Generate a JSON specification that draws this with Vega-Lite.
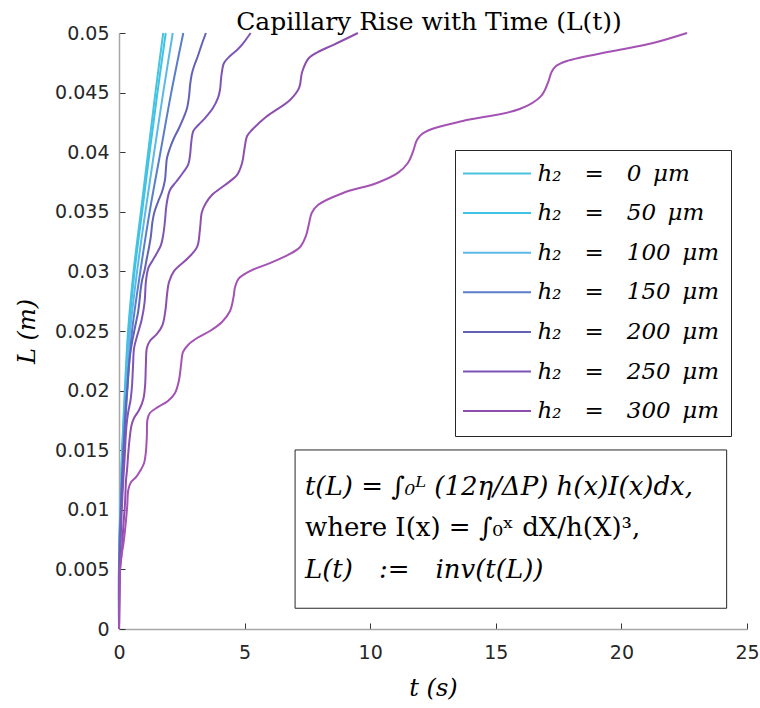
{
  "$schema": "https://vega.github.io/schema/vega-lite/v6.json",
  "width": 628,
  "height": 596,
  "autosize": {"type": "none"},
  "padding": {"left": 119, "top": 33, "right": 13, "bottom": 79},
  "background": "white",
  "title": {"text": "Capillary Rise with Time (L(t))", "font": "DejaVu Serif", "fontSize": 25, "fontWeight": "normal", "color": "#000000", "anchor": "middle", "offset": -11, "dx": -4},
  "config": {"view": {"stroke": null}},
  "datasets": {
    "curves": [
      {"label": "h₂ = 0 μm", "t": 0, "L": 0},
      {"label": "h₂ = 0 μm", "t": 0, "L": 0.0055},
      {"label": "h₂ = 0 μm", "t": 0.02, "L": 0.0075},
      {"label": "h₂ = 0 μm", "t": 0.05, "L": 0.01},
      {"label": "h₂ = 0 μm", "t": 0.12, "L": 0.015},
      {"label": "h₂ = 0 μm", "t": 0.23, "L": 0.02},
      {"label": "h₂ = 0 μm", "t": 0.36, "L": 0.025},
      {"label": "h₂ = 0 μm", "t": 0.58, "L": 0.03},
      {"label": "h₂ = 0 μm", "t": 0.87, "L": 0.035},
      {"label": "h₂ = 0 μm", "t": 1.16, "L": 0.04},
      {"label": "h₂ = 0 μm", "t": 1.45, "L": 0.045},
      {"label": "h₂ = 0 μm", "t": 1.76, "L": 0.05},
      {"label": "h₂ = 50 μm", "t": 0, "L": 0},
      {"label": "h₂ = 50 μm", "t": 0, "L": 0.0055},
      {"label": "h₂ = 50 μm", "t": 0.02, "L": 0.0075},
      {"label": "h₂ = 50 μm", "t": 0.05, "L": 0.01},
      {"label": "h₂ = 50 μm", "t": 0.13, "L": 0.015},
      {"label": "h₂ = 50 μm", "t": 0.25, "L": 0.02},
      {"label": "h₂ = 50 μm", "t": 0.39, "L": 0.025},
      {"label": "h₂ = 50 μm", "t": 0.62, "L": 0.03},
      {"label": "h₂ = 50 μm", "t": 0.92, "L": 0.035},
      {"label": "h₂ = 50 μm", "t": 1.22, "L": 0.04},
      {"label": "h₂ = 50 μm", "t": 1.53, "L": 0.045},
      {"label": "h₂ = 50 μm", "t": 1.86, "L": 0.05},
      {"label": "h₂ = 100 μm", "t": 0, "L": 0},
      {"label": "h₂ = 100 μm", "t": 0, "L": 0.0055},
      {"label": "h₂ = 100 μm", "t": 0.02, "L": 0.0075},
      {"label": "h₂ = 100 μm", "t": 0.06, "L": 0.01},
      {"label": "h₂ = 100 μm", "t": 0.15, "L": 0.015},
      {"label": "h₂ = 100 μm", "t": 0.28, "L": 0.02},
      {"label": "h₂ = 100 μm", "t": 0.44, "L": 0.025},
      {"label": "h₂ = 100 μm", "t": 0.72, "L": 0.03},
      {"label": "h₂ = 100 μm", "t": 1.05, "L": 0.035},
      {"label": "h₂ = 100 μm", "t": 1.4, "L": 0.04},
      {"label": "h₂ = 100 μm", "t": 1.76, "L": 0.045},
      {"label": "h₂ = 100 μm", "t": 2.14, "L": 0.05},
      {"label": "h₂ = 150 μm", "t": 0, "L": 0},
      {"label": "h₂ = 150 μm", "t": 0, "L": 0.0055},
      {"label": "h₂ = 150 μm", "t": 0.03, "L": 0.0075},
      {"label": "h₂ = 150 μm", "t": 0.07, "L": 0.01},
      {"label": "h₂ = 150 μm", "t": 0.18, "L": 0.015},
      {"label": "h₂ = 150 μm", "t": 0.33, "L": 0.02},
      {"label": "h₂ = 150 μm", "t": 0.52, "L": 0.025},
      {"label": "h₂ = 150 μm", "t": 0.85, "L": 0.03},
      {"label": "h₂ = 150 μm", "t": 1.22, "L": 0.035},
      {"label": "h₂ = 150 μm", "t": 1.65, "L": 0.04},
      {"label": "h₂ = 150 μm", "t": 2.08, "L": 0.045},
      {"label": "h₂ = 150 μm", "t": 2.56, "L": 0.05},
      {"label": "h₂ = 200 μm", "t": 0, "L": 0},
      {"label": "h₂ = 200 μm", "t": 0.01, "L": 0.00327},
      {"label": "h₂ = 200 μm", "t": 0.03, "L": 0.00579},
      {"label": "h₂ = 200 μm", "t": 0.06, "L": 0.00831},
      {"label": "h₂ = 200 μm", "t": 0.09, "L": 0.01082},
      {"label": "h₂ = 200 μm", "t": 0.12, "L": 0.0125},
      {"label": "h₂ = 200 μm", "t": 0.16, "L": 0.01418},
      {"label": "h₂ = 200 μm", "t": 0.2, "L": 0.01586},
      {"label": "h₂ = 200 μm", "t": 0.24, "L": 0.01753},
      {"label": "h₂ = 200 μm", "t": 0.29, "L": 0.01921},
      {"label": "h₂ = 200 μm", "t": 0.34, "L": 0.02047},
      {"label": "h₂ = 200 μm", "t": 0.38, "L": 0.02173},
      {"label": "h₂ = 200 μm", "t": 0.44, "L": 0.02299},
      {"label": "h₂ = 200 μm", "t": 0.52, "L": 0.02408},
      {"label": "h₂ = 200 μm", "t": 0.6, "L": 0.02492},
      {"label": "h₂ = 200 μm", "t": 0.68, "L": 0.02576},
      {"label": "h₂ = 200 μm", "t": 0.76, "L": 0.02659},
      {"label": "h₂ = 200 μm", "t": 0.82, "L": 0.0276},
      {"label": "h₂ = 200 μm", "t": 0.86, "L": 0.02844},
      {"label": "h₂ = 200 μm", "t": 0.92, "L": 0.02928},
      {"label": "h₂ = 200 μm", "t": 1.02, "L": 0.03012},
      {"label": "h₂ = 200 μm", "t": 1.11, "L": 0.03112},
      {"label": "h₂ = 200 μm", "t": 1.19, "L": 0.03196},
      {"label": "h₂ = 200 μm", "t": 1.27, "L": 0.03297},
      {"label": "h₂ = 200 μm", "t": 1.33, "L": 0.03414},
      {"label": "h₂ = 200 μm", "t": 1.41, "L": 0.03498},
      {"label": "h₂ = 200 μm", "t": 1.55, "L": 0.03582},
      {"label": "h₂ = 200 μm", "t": 1.71, "L": 0.03666},
      {"label": "h₂ = 200 μm", "t": 1.83, "L": 0.03767},
      {"label": "h₂ = 200 μm", "t": 1.87, "L": 0.03867},
      {"label": "h₂ = 200 μm", "t": 1.91, "L": 0.03951},
      {"label": "h₂ = 200 μm", "t": 2.03, "L": 0.04035},
      {"label": "h₂ = 200 μm", "t": 2.19, "L": 0.04119},
      {"label": "h₂ = 200 μm", "t": 2.39, "L": 0.04203},
      {"label": "h₂ = 200 μm", "t": 2.55, "L": 0.04279},
      {"label": "h₂ = 200 μm", "t": 2.71, "L": 0.04371},
      {"label": "h₂ = 200 μm", "t": 2.79, "L": 0.04472},
      {"label": "h₂ = 200 μm", "t": 2.83, "L": 0.04564},
      {"label": "h₂ = 200 μm", "t": 2.89, "L": 0.04648},
      {"label": "h₂ = 200 μm", "t": 2.99, "L": 0.04723},
      {"label": "h₂ = 200 μm", "t": 3.14, "L": 0.04807},
      {"label": "h₂ = 200 μm", "t": 3.3, "L": 0.04908},
      {"label": "h₂ = 200 μm", "t": 3.46, "L": 0.05},
      {"label": "h₂ = 250 μm", "t": 0, "L": 0},
      {"label": "h₂ = 250 μm", "t": 0.01, "L": 0.00327},
      {"label": "h₂ = 250 μm", "t": 0.04, "L": 0.00579},
      {"label": "h₂ = 250 μm", "t": 0.08, "L": 0.00831},
      {"label": "h₂ = 250 μm", "t": 0.12, "L": 0.0104},
      {"label": "h₂ = 250 μm", "t": 0.17, "L": 0.0125},
      {"label": "h₂ = 250 μm", "t": 0.22, "L": 0.01418},
      {"label": "h₂ = 250 μm", "t": 0.26, "L": 0.01586},
      {"label": "h₂ = 250 μm", "t": 0.3, "L": 0.01711},
      {"label": "h₂ = 250 μm", "t": 0.36, "L": 0.01812},
      {"label": "h₂ = 250 μm", "t": 0.46, "L": 0.01921},
      {"label": "h₂ = 250 μm", "t": 0.52, "L": 0.02047},
      {"label": "h₂ = 250 μm", "t": 0.56, "L": 0.02215},
      {"label": "h₂ = 250 μm", "t": 0.6, "L": 0.02357},
      {"label": "h₂ = 250 μm", "t": 0.72, "L": 0.02458},
      {"label": "h₂ = 250 μm", "t": 0.9, "L": 0.02592},
      {"label": "h₂ = 250 μm", "t": 1.02, "L": 0.02743},
      {"label": "h₂ = 250 μm", "t": 1.07, "L": 0.02911},
      {"label": "h₂ = 250 μm", "t": 1.17, "L": 0.03029},
      {"label": "h₂ = 250 μm", "t": 1.35, "L": 0.03096},
      {"label": "h₂ = 250 μm", "t": 1.51, "L": 0.03154},
      {"label": "h₂ = 250 μm", "t": 1.67, "L": 0.03221},
      {"label": "h₂ = 250 μm", "t": 1.76, "L": 0.03305},
      {"label": "h₂ = 250 μm", "t": 1.83, "L": 0.03423},
      {"label": "h₂ = 250 μm", "t": 1.89, "L": 0.03557},
      {"label": "h₂ = 250 μm", "t": 2.03, "L": 0.03683},
      {"label": "h₂ = 250 μm", "t": 2.27, "L": 0.0375},
      {"label": "h₂ = 250 μm", "t": 2.51, "L": 0.03817},
      {"label": "h₂ = 250 μm", "t": 2.75, "L": 0.03893},
      {"label": "h₂ = 250 μm", "t": 2.83, "L": 0.03977},
      {"label": "h₂ = 250 μm", "t": 2.87, "L": 0.04069},
      {"label": "h₂ = 250 μm", "t": 2.96, "L": 0.04178},
      {"label": "h₂ = 250 μm", "t": 3.16, "L": 0.04228},
      {"label": "h₂ = 250 μm", "t": 3.46, "L": 0.04295},
      {"label": "h₂ = 250 μm", "t": 3.74, "L": 0.04371},
      {"label": "h₂ = 250 μm", "t": 3.94, "L": 0.04456},
      {"label": "h₂ = 250 μm", "t": 4.02, "L": 0.04522},
      {"label": "h₂ = 250 μm", "t": 4.08, "L": 0.04648},
      {"label": "h₂ = 250 μm", "t": 4.18, "L": 0.04748},
      {"label": "h₂ = 250 μm", "t": 4.42, "L": 0.04807},
      {"label": "h₂ = 250 μm", "t": 4.74, "L": 0.04866},
      {"label": "h₂ = 250 μm", "t": 4.98, "L": 0.04924},
      {"label": "h₂ = 250 μm", "t": 5.24, "L": 0.05},
      {"label": "h₂ = 300 μm", "t": 0, "L": 0},
      {"label": "h₂ = 300 μm", "t": 0.02, "L": 0.00285},
      {"label": "h₂ = 300 μm", "t": 0.04, "L": 0.00495},
      {"label": "h₂ = 300 μm", "t": 0.11, "L": 0.00638},
      {"label": "h₂ = 300 μm", "t": 0.17, "L": 0.00856},
      {"label": "h₂ = 300 μm", "t": 0.24, "L": 0.01057},
      {"label": "h₂ = 300 μm", "t": 0.28, "L": 0.0125},
      {"label": "h₂ = 300 μm", "t": 0.32, "L": 0.01334},
      {"label": "h₂ = 300 μm", "t": 0.38, "L": 0.01502},
      {"label": "h₂ = 300 μm", "t": 0.44, "L": 0.01628},
      {"label": "h₂ = 300 μm", "t": 0.5, "L": 0.01711},
      {"label": "h₂ = 300 μm", "t": 0.6, "L": 0.0177},
      {"label": "h₂ = 300 μm", "t": 0.8, "L": 0.01837},
      {"label": "h₂ = 300 μm", "t": 0.97, "L": 0.0193},
      {"label": "h₂ = 300 μm", "t": 1.04, "L": 0.02047},
      {"label": "h₂ = 300 μm", "t": 1.07, "L": 0.02215},
      {"label": "h₂ = 300 μm", "t": 1.11, "L": 0.02357},
      {"label": "h₂ = 300 μm", "t": 1.23, "L": 0.02416},
      {"label": "h₂ = 300 μm", "t": 1.51, "L": 0.02475},
      {"label": "h₂ = 300 μm", "t": 1.73, "L": 0.0255},
      {"label": "h₂ = 300 μm", "t": 1.85, "L": 0.02676},
      {"label": "h₂ = 300 μm", "t": 1.91, "L": 0.02802},
      {"label": "h₂ = 300 μm", "t": 1.99, "L": 0.02911},
      {"label": "h₂ = 300 μm", "t": 2.19, "L": 0.03003},
      {"label": "h₂ = 300 μm", "t": 2.75, "L": 0.03112},
      {"label": "h₂ = 300 μm", "t": 3.11, "L": 0.03205},
      {"label": "h₂ = 300 μm", "t": 3.22, "L": 0.03347},
      {"label": "h₂ = 300 μm", "t": 3.3, "L": 0.03498},
      {"label": "h₂ = 300 μm", "t": 3.46, "L": 0.03574},
      {"label": "h₂ = 300 μm", "t": 3.7, "L": 0.03641},
      {"label": "h₂ = 300 μm", "t": 4.22, "L": 0.03725},
      {"label": "h₂ = 300 μm", "t": 4.7, "L": 0.03809},
      {"label": "h₂ = 300 μm", "t": 4.9, "L": 0.03909},
      {"label": "h₂ = 300 μm", "t": 5.0, "L": 0.04035},
      {"label": "h₂ = 300 μm", "t": 5.1, "L": 0.04136},
      {"label": "h₂ = 300 μm", "t": 5.29, "L": 0.04186},
      {"label": "h₂ = 300 μm", "t": 5.85, "L": 0.04295},
      {"label": "h₂ = 300 μm", "t": 6.81, "L": 0.04438},
      {"label": "h₂ = 300 μm", "t": 7.17, "L": 0.04539},
      {"label": "h₂ = 300 μm", "t": 7.29, "L": 0.04673},
      {"label": "h₂ = 300 μm", "t": 7.56, "L": 0.0479},
      {"label": "h₂ = 300 μm", "t": 8.0, "L": 0.04849},
      {"label": "h₂ = 300 μm", "t": 8.52, "L": 0.04899},
      {"label": "h₂ = 300 μm", "t": 9.51, "L": 0.05},
      {"label": "h₂ = 350 μm", "t": 0, "L": 0},
      {"label": "h₂ = 350 μm", "t": 0.01, "L": 0.00243},
      {"label": "h₂ = 350 μm", "t": 0.04, "L": 0.00495},
      {"label": "h₂ = 350 μm", "t": 0.1, "L": 0.00621},
      {"label": "h₂ = 350 μm", "t": 0.17, "L": 0.00705},
      {"label": "h₂ = 350 μm", "t": 0.26, "L": 0.00872},
      {"label": "h₂ = 350 μm", "t": 0.33, "L": 0.0104},
      {"label": "h₂ = 350 μm", "t": 0.37, "L": 0.01166},
      {"label": "h₂ = 350 μm", "t": 0.48, "L": 0.01233},
      {"label": "h₂ = 350 μm", "t": 0.68, "L": 0.01275},
      {"label": "h₂ = 350 μm", "t": 0.84, "L": 0.01326},
      {"label": "h₂ = 350 μm", "t": 1.0, "L": 0.01393},
      {"label": "h₂ = 350 μm", "t": 1.07, "L": 0.01485},
      {"label": "h₂ = 350 μm", "t": 1.11, "L": 0.01628},
      {"label": "h₂ = 350 μm", "t": 1.13, "L": 0.01753},
      {"label": "h₂ = 350 μm", "t": 1.23, "L": 0.01812},
      {"label": "h₂ = 350 μm", "t": 1.55, "L": 0.01862},
      {"label": "h₂ = 350 μm", "t": 1.95, "L": 0.01913},
      {"label": "h₂ = 350 μm", "t": 2.23, "L": 0.0198},
      {"label": "h₂ = 350 μm", "t": 2.39, "L": 0.02089},
      {"label": "h₂ = 350 μm", "t": 2.47, "L": 0.02215},
      {"label": "h₂ = 350 μm", "t": 2.55, "L": 0.02324},
      {"label": "h₂ = 350 μm", "t": 2.75, "L": 0.02383},
      {"label": "h₂ = 350 μm", "t": 3.11, "L": 0.02441},
      {"label": "h₂ = 350 μm", "t": 3.62, "L": 0.025},
      {"label": "h₂ = 350 μm", "t": 4.1, "L": 0.02576},
      {"label": "h₂ = 350 μm", "t": 4.42, "L": 0.02668},
      {"label": "h₂ = 350 μm", "t": 4.56, "L": 0.02785},
      {"label": "h₂ = 350 μm", "t": 4.62, "L": 0.02869},
      {"label": "h₂ = 350 μm", "t": 4.75, "L": 0.02936},
      {"label": "h₂ = 350 μm", "t": 5.22, "L": 0.03003},
      {"label": "h₂ = 350 μm", "t": 6.01, "L": 0.0307},
      {"label": "h₂ = 350 μm", "t": 6.73, "L": 0.03138},
      {"label": "h₂ = 350 μm", "t": 7.21, "L": 0.03205},
      {"label": "h₂ = 350 μm", "t": 7.44, "L": 0.03297},
      {"label": "h₂ = 350 μm", "t": 7.56, "L": 0.03398},
      {"label": "h₂ = 350 μm", "t": 7.67, "L": 0.0349},
      {"label": "h₂ = 350 μm", "t": 7.92, "L": 0.03557},
      {"label": "h₂ = 350 μm", "t": 8.92, "L": 0.03658},
      {"label": "h₂ = 350 μm", "t": 10.27, "L": 0.03742},
      {"label": "h₂ = 350 μm", "t": 11.1, "L": 0.03826},
      {"label": "h₂ = 350 μm", "t": 11.5, "L": 0.03909},
      {"label": "h₂ = 350 μm", "t": 11.7, "L": 0.04002},
      {"label": "h₂ = 350 μm", "t": 11.86, "L": 0.04102},
      {"label": "h₂ = 350 μm", "t": 12.06, "L": 0.04153},
      {"label": "h₂ = 350 μm", "t": 12.46, "L": 0.04195},
      {"label": "h₂ = 350 μm", "t": 13.69, "L": 0.04262},
      {"label": "h₂ = 350 μm", "t": 15.95, "L": 0.04362},
      {"label": "h₂ = 350 μm", "t": 16.8, "L": 0.04471},
      {"label": "h₂ = 350 μm", "t": 17.1, "L": 0.04597},
      {"label": "h₂ = 350 μm", "t": 17.22, "L": 0.04673},
      {"label": "h₂ = 350 μm", "t": 17.4, "L": 0.04723},
      {"label": "h₂ = 350 μm", "t": 17.83, "L": 0.04765},
      {"label": "h₂ = 350 μm", "t": 19.67, "L": 0.04849},
      {"label": "h₂ = 350 μm", "t": 21.26, "L": 0.04916},
      {"label": "h₂ = 350 μm", "t": 22.61, "L": 0.05}
    ]
  },
  "layer": [
    {
      "data": {"values": [{"t1": 7.01, "t2": 24.19, "L1": 0.01502, "L2": 0.00174}]},
      "mark": {"type": "rect", "fill": "white", "stroke": "#262626", "strokeWidth": 1},
      "encoding": {
        "x": {"field": "t1", "type": "quantitative"},
        "x2": {"field": "t2"},
        "y": {"field": "L1", "type": "quantitative"},
        "y2": {"field": "L2"}
      }
    },
    {
      "data": {"values": [
        {"t": 7.4, "L": 0.01194, "txt": "t(L) = ∫₀ᴸ (12η/ΔP) h(x)I(x)dx,"},
        {"t": 7.4, "L": 0.00495, "txt": "L(t)\u2003:=\u2003inv(t(L))"}
      ]},
      "mark": {"type": "text", "align": "left", "baseline": "middle", "font": "DejaVu Serif", "fontStyle": "italic", "fontSize": 26, "color": "#000000"},
      "encoding": {
        "x": {"field": "t", "type": "quantitative"},
        "y": {"field": "L", "type": "quantitative"},
        "text": {"field": "txt"}
      }
    },
    {
      "data": {"values": [
        {"t": 7.4, "L": 0.00847, "txt": "where I(x) = ∫₀ˣ dX/h(X)³,"}
      ]},
      "mark": {"type": "text", "align": "left", "baseline": "middle", "font": "DejaVu Serif", "fontSize": 26, "color": "#000000"},
      "encoding": {
        "x": {"field": "t", "type": "quantitative"},
        "y": {"field": "L", "type": "quantitative"},
        "text": {"field": "txt"}
      }
    },
    {
      "data": {"name": "curves"},
      "mark": {"type": "line", "strokeWidth": 2, "interpolate": "catmull-rom"},
      "encoding": {
        "x": {
          "field": "t", "type": "quantitative",
          "scale": {"domain": [0, 25], "nice": false, "zero": true},
          "axis": {
            "values": [0, 5, 10, 15, 20, 25],
            "title": "t (s)",
            "titleFont": "DejaVu Serif", "titleFontStyle": "italic", "titleFontWeight": "normal", "titleFontSize": 24, "titleColor": "#000000",
            "titleX": 314, "titleY": 59, "titleAlign": "center", "titleBaseline": "middle",
            "labelFont": "DejaVu Sans", "labelFontSize": 19, "labelColor": "#262626", "labelFlush": false,
            "domainColor": "#a6a6a6", "domainWidth": 1.5,
            "tickColor": "#333333", "tickSize": -6, "tickWidth": 1,
            "labelPadding": 20, "grid": false
          }
        },
        "y": {
          "field": "L", "type": "quantitative",
          "scale": {"domain": [0, 0.05], "nice": false},
          "axis": {
            "values": [0, 0.005, 0.01, 0.015, 0.02, 0.025, 0.03, 0.035, 0.04, 0.045, 0.05],
            "format": "~g",
            "title": "L (m)",
            "titleFont": "DejaVu Serif", "titleFontStyle": "italic", "titleFontWeight": "normal", "titleFontSize": 24, "titleColor": "#000000",
            "titleX": -92, "titleY": 298, "titleAngle": -90, "titleAlign": "center", "titleBaseline": "middle",
            "labelFont": "DejaVu Sans", "labelFontSize": 19, "labelColor": "#262626",
            "domainColor": "#a6a6a6", "domainWidth": 1.5,
            "tickColor": "#333333", "tickSize": -6, "tickWidth": 1,
            "labelPadding": 16, "grid": false
          }
        },
        "color": {
          "field": "label", "type": "nominal",
          "scale": {
            "domain": ["h₂ = 0 μm", "h₂ = 50 μm", "h₂ = 100 μm", "h₂ = 150 μm", "h₂ = 200 μm", "h₂ = 250 μm", "h₂ = 300 μm", "h₂ = 350 μm"],
            "range": ["#48C4DF", "#3FC2E6", "#5BB8E8", "#5A7DCC", "#6262B8", "#7E55B6", "#8E4EAE", "#A452B4"]
          },
          "legend": {
            "orient": "none", "legendX": 336, "legendY": 117,
            "title": null,
            "values": ["h₂ = 0 μm", "h₂ = 50 μm", "h₂ = 100 μm", "h₂ = 150 μm", "h₂ = 200 μm", "h₂ = 250 μm", "h₂ = 300 μm"],
            "labelExpr": "replace(replace(datum.label, ' = ', '\u2003=\u2003'), ' μm', '\u2002μm')",
            "symbolType": "M-5,0H5", "symbolSize": 185, "symbolStrokeWidth": 2, "symbolOffset": 18.5,
            "labelFont": "DejaVu Serif", "labelFontStyle": "italic", "labelFontSize": 23, "labelColor": "#000000",
            "labelLimit": 400, "labelOffset": 29,
            "strokeColor": "#262626", "fillColor": "white", "padding": 12, "rowPadding": 15.6
          }
        },
        "order": {"field": "L", "type": "quantitative"}
      }
    }
  ]
}
